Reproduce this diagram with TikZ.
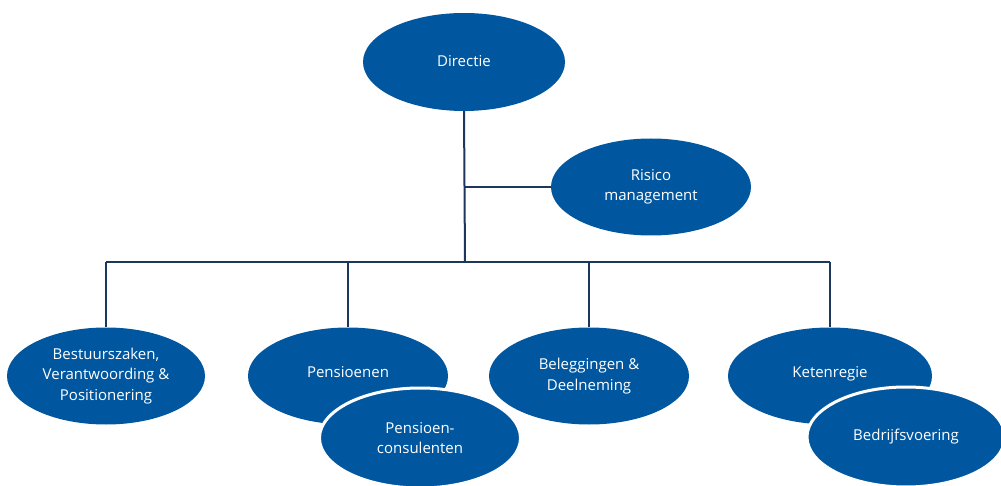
\documentclass[tikz,border=0pt]{standalone}
\usepackage{fontspec}
\setmainfont{Open Sans}
\usetikzlibrary{shapes.geometric}
\definecolor{ellblue}{RGB}{0,87,160}
\definecolor{linenavy}{RGB}{28,55,92}
\tikzset{
  unit/.style={ellipse, fill=ellblue, text=white, inner sep=0pt,
    minimum width=198pt, minimum height=97pt, align=center,
    font=\fontsize{15}{20.5}\selectfont},
  subunit/.style={unit, draw=white, line width=3pt},
  conn/.style={draw=linenavy, line width=2pt}
}
\begin{document}
\begin{tikzpicture}[x=1pt,y=-1pt]
\useasboundingbox (0,0) rectangle (1001,486);
\node[unit, minimum width=202pt, minimum height=98pt] (dir) at (464,62) {\raisebox{2pt}{Directie}};
\node[unit, minimum width=200pt] (ris) at (651,187) {Risico\\management};
\coordinate (top) at (465,262);
\coordinate (b1) at (106,262);
\coordinate (b2) at (348,262);
\coordinate (b3) at (589,262);
\coordinate (b4) at (830,262);
\coordinate (rj) at (465,187);
\node[unit] (bes) at (106,376) {Bestuurszaken,\\Verantwoording \&\\Positionering};
\node[unit, minimum width=200pt] (pen) at (348,376) {\raisebox{8pt}{Pensioenen}};
\node[unit, minimum width=200pt] (bel) at (589,376) {Beleggingen \&\\Deelneming};
\node[unit, minimum width=204pt] (ket) at (830,376) {\raisebox{8pt}{Ketenregie}};
\node[subunit, minimum width=201pt, minimum height=100pt] (pc) at (420,438) {Pensioen-\\consulenten};
\node[subunit, minimum width=198pt, minimum height=100pt] (bed) at (906,437) {Bedrijfsvoering};
\draw[conn] (dir.south) -- (top);
\draw[conn] (rj) -- (ris.west);
\draw[conn] (b1) -- (b4);
\draw[conn] (b1) -- (bes.north);
\draw[conn] (b2) -- (pen.north);
\draw[conn] (b3) -- (bel.north);
\draw[conn] (b4) -- (ket.north);
\end{tikzpicture}
\end{document}
